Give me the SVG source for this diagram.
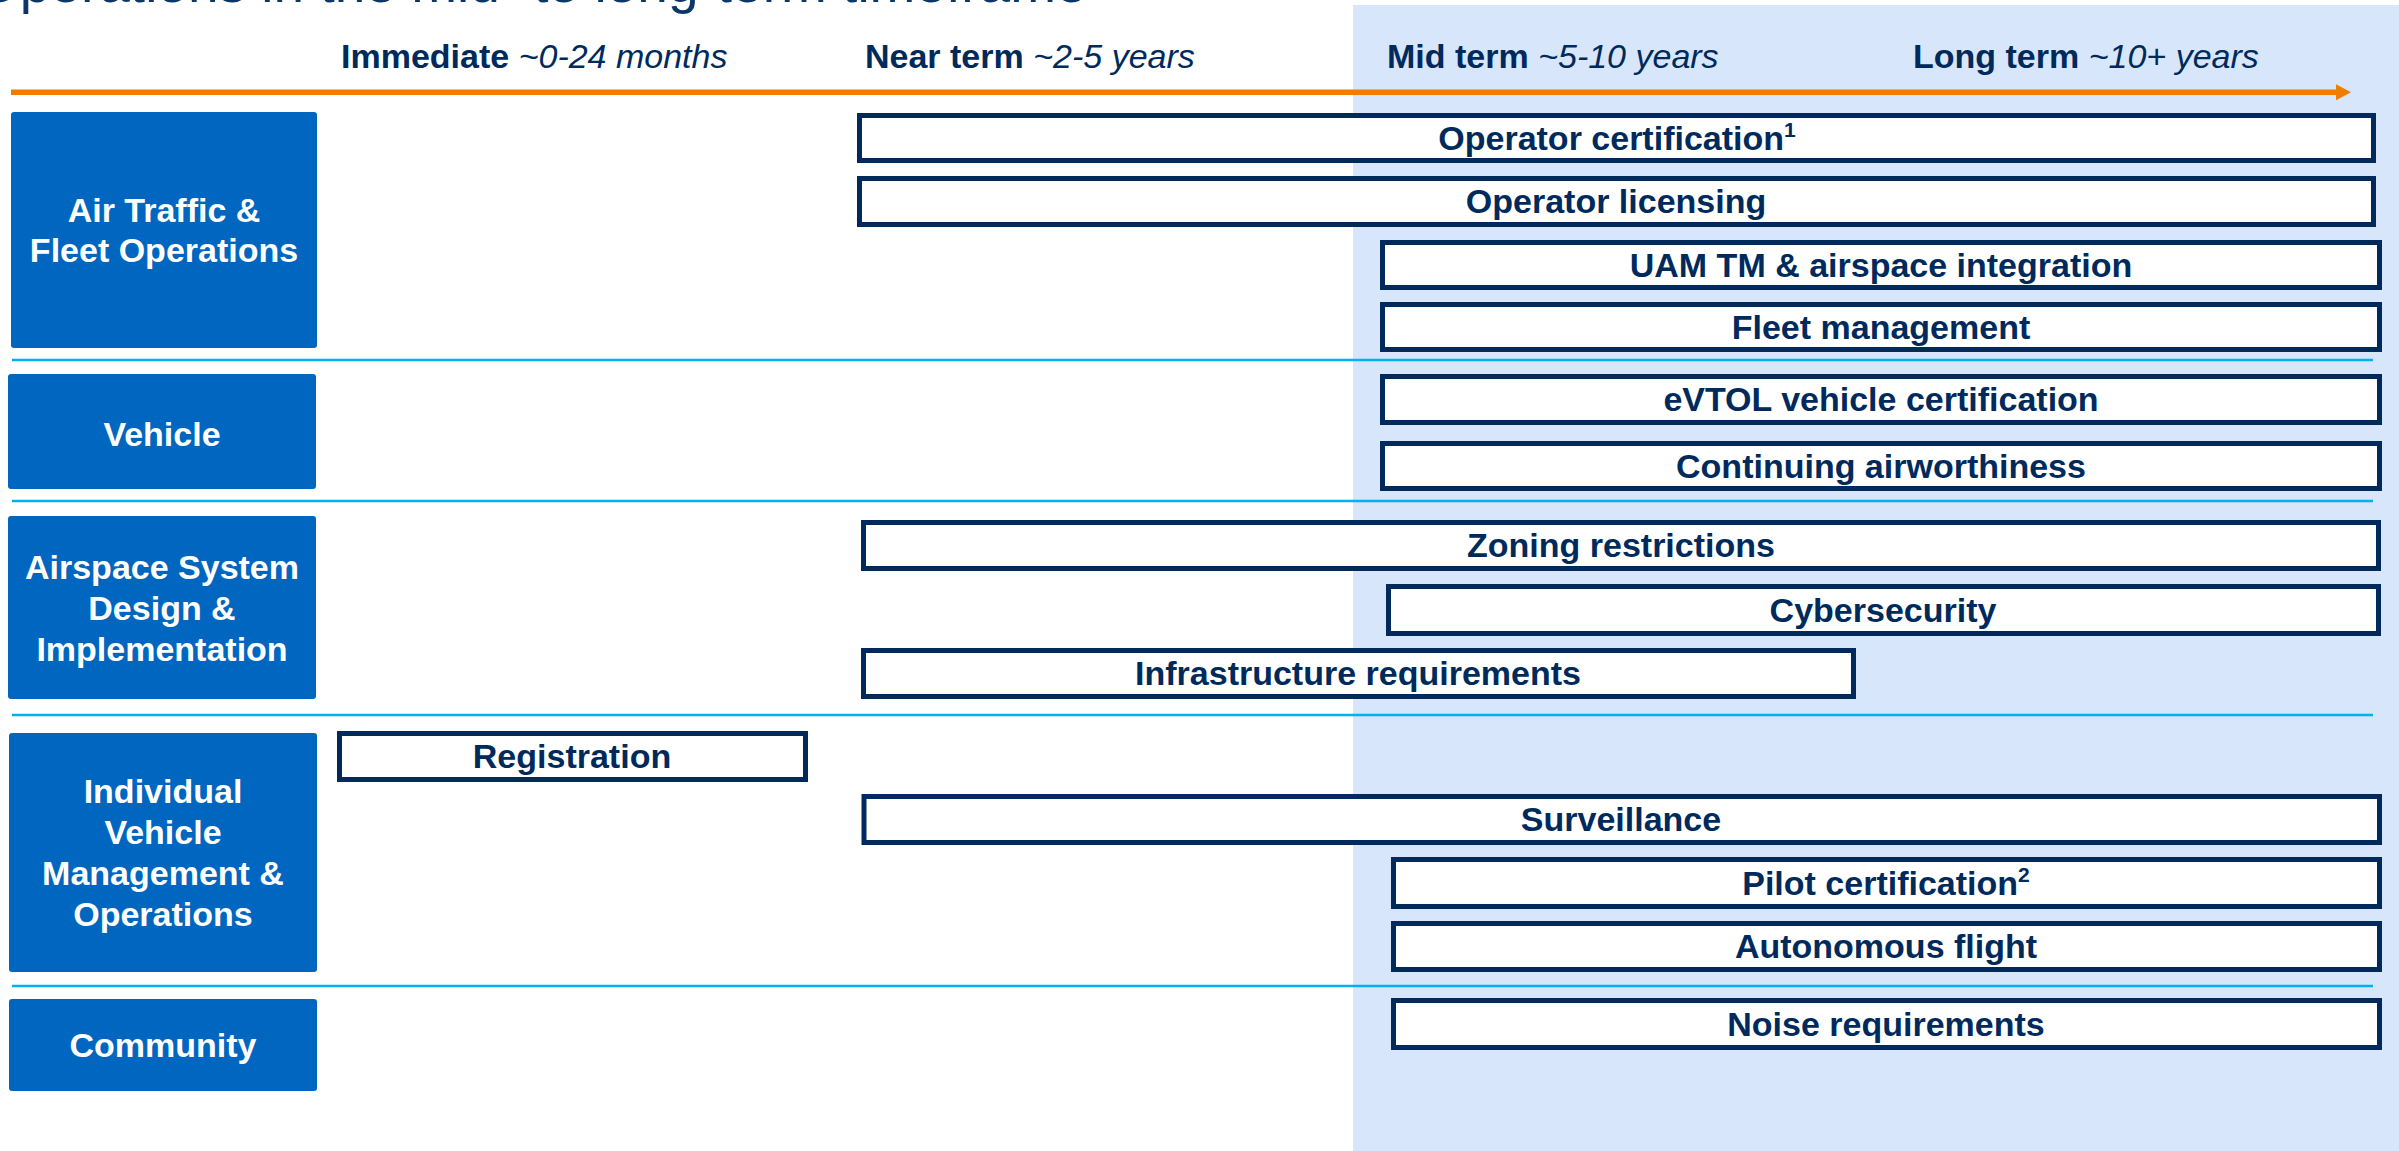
<svg xmlns="http://www.w3.org/2000/svg" width="2399" height="1151" viewBox="0 0 2399 1151">
<defs>
<style>
.bg{fill:#D7E6FB}
.title{font-family:"Liberation Sans",Arial,sans-serif;font-size:55px;fill:#0B3766}
.hdr{font-family:"Liberation Sans",Arial,sans-serif;font-size:34px;fill:#002A5C}
.b{font-weight:bold}
.it{font-style:italic}
.cat rect{fill:#0066C0}
.cat text{font-family:"Liberation Sans",Arial,sans-serif;font-size:34px;font-weight:bold;fill:#FFFFFF;text-anchor:middle}
.bar rect{fill:#FFFFFF;stroke:#002A5C;stroke-width:5}
.bar text{font-family:"Liberation Sans",Arial,sans-serif;font-size:34px;font-weight:bold;fill:#002A5C;text-anchor:middle}
.sup{font-size:21px}
.sep{stroke:#00B0F0;stroke-width:2.5}
.axis{stroke:#F07C00;stroke-width:5.5}
</style>
<marker id="arrow" markerUnits="userSpaceOnUse" markerWidth="16" markerHeight="16" refX="0" refY="8" orient="auto">
<path d="M0,0 L15,8 L0,16 Z" fill="#F07C00"/>
</marker>
</defs>
<rect width="2399" height="1151" fill="#FFFFFF"/>
<rect class="bg" x="1353" y="5" width="1046" height="1146"/>
<text class="title" x="-23" y="2">Operations in the mid- to long-term timeframe</text>

<g id="headers" class="hdr">
<text x="341" y="68"><tspan class="b">Immediate </tspan><tspan class="it">~0-24 months</tspan></text>
<text x="865" y="68"><tspan class="b">Near term </tspan><tspan class="it">~2-5 years</tspan></text>
<text x="1387" y="68"><tspan class="b">Mid term </tspan><tspan class="it">~5-10 years</tspan></text>
<text x="1913" y="68"><tspan class="b">Long term </tspan><tspan class="it">~10+ years</tspan></text>
</g>

<g id="connectors">
<line class="axis" x1="11" y1="92.3" x2="2336" y2="92.3" marker-end="url(#arrow)"/>
<line class="sep" x1="12" y1="360" x2="2373" y2="360"/>
<line class="sep" x1="12" y1="501" x2="2373" y2="501"/>
<line class="sep" x1="12" y1="715" x2="2373" y2="715"/>
<line class="sep" x1="12" y1="986" x2="2373" y2="986"/>
</g>

<g id="cat-air-traffic" class="cat">
<rect x="11" y="112" width="306" height="236" rx="3"/>
<text x="164" y="222">Air Traffic &amp;</text>
<text x="164" y="262">Fleet Operations</text>
</g>
<g id="cat-vehicle" class="cat">
<rect x="8" y="374" width="308" height="115" rx="3"/>
<text x="162" y="446">Vehicle</text>
</g>
<g id="cat-airspace" class="cat">
<rect x="8" y="516" width="308" height="183" rx="3"/>
<text x="162" y="579">Airspace System</text>
<text x="162" y="620">Design &amp;</text>
<text x="162" y="661">Implementation</text>
</g>
<g id="cat-individual" class="cat">
<rect x="9" y="733" width="308" height="239" rx="3"/>
<text x="163" y="803">Individual</text>
<text x="163" y="844">Vehicle</text>
<text x="163" y="885">Management &amp;</text>
<text x="163" y="926">Operations</text>
</g>
<g id="cat-community" class="cat">
<rect x="9" y="999" width="308" height="92" rx="3"/>
<text x="163" y="1057">Community</text>
</g>

<g id="bar-operator-certification" class="bar">
<rect x="859.5" y="115.5" width="1514" height="45"/>
<text x="1617" y="150">Operator certification<tspan class="sup" dy="-13">1</tspan></text>
</g>
<g id="bar-operator-licensing" class="bar">
<rect x="859.5" y="178.5" width="1514" height="46"/>
<text x="1616" y="213">Operator licensing</text>
</g>
<g id="bar-uam-tm" class="bar">
<rect x="1382.5" y="242.5" width="997" height="45"/>
<text x="1881" y="277">UAM TM &amp; airspace integration</text>
</g>
<g id="bar-fleet-management" class="bar">
<rect x="1382.5" y="304.5" width="997" height="45"/>
<text x="1881" y="339">Fleet management</text>
</g>
<g id="bar-evtol" class="bar">
<rect x="1382.5" y="376.5" width="997" height="46"/>
<text x="1881" y="411">eVTOL vehicle certification</text>
</g>
<g id="bar-continuing" class="bar">
<rect x="1382.5" y="443.5" width="997" height="45"/>
<text x="1881" y="478">Continuing airworthiness</text>
</g>
<g id="bar-zoning" class="bar">
<rect x="863.5" y="522.5" width="1515" height="46"/>
<text x="1621" y="557">Zoning restrictions</text>
</g>
<g id="bar-cybersecurity" class="bar">
<rect x="1388.5" y="586.5" width="990" height="47"/>
<text x="1883" y="622">Cybersecurity</text>
</g>
<g id="bar-infrastructure" class="bar">
<rect x="863.5" y="650.5" width="990" height="46"/>
<text x="1358" y="685">Infrastructure requirements</text>
</g>
<g id="bar-registration" class="bar">
<rect x="339.5" y="733.5" width="466" height="46"/>
<text x="572" y="768">Registration</text>
</g>
<g id="bar-surveillance" class="bar">
<rect x="864" y="796.5" width="1515.5" height="46"/>
<text x="1621" y="831">Surveillance</text>
</g>
<g id="bar-pilot-certification" class="bar">
<rect x="1393.5" y="859.5" width="986" height="47"/>
<text x="1886" y="895">Pilot certification<tspan class="sup" dy="-13">2</tspan></text>
</g>
<g id="bar-autonomous-flight" class="bar">
<rect x="1393.5" y="923.5" width="986" height="46"/>
<text x="1886" y="958">Autonomous flight</text>
</g>
<g id="bar-noise" class="bar">
<rect x="1393.5" y="1000.5" width="986" height="47"/>
<text x="1886" y="1036">Noise requirements</text>
</g>
</svg>
